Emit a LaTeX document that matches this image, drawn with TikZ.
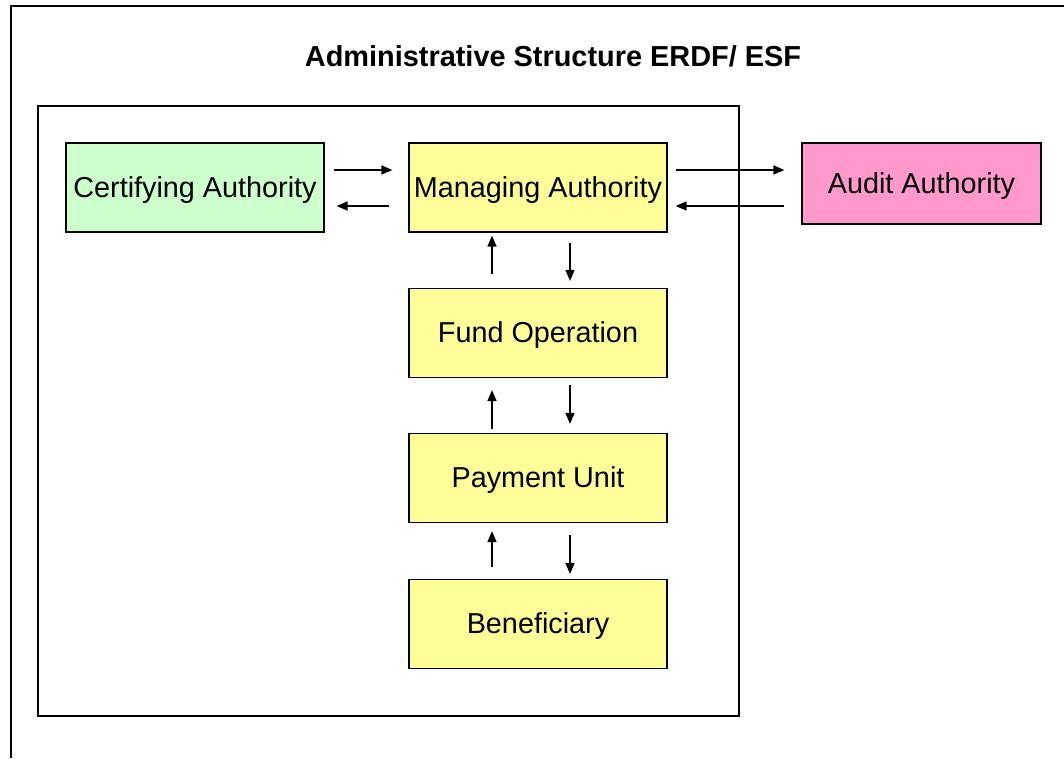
\documentclass[tikz,border=0pt]{standalone}
\usepackage{fontspec}
\setmainfont{Liberation Sans}
\usetikzlibrary{arrows.meta}
\definecolor{boxgreen}{HTML}{CCFFCC}
\definecolor{boxyellow}{HTML}{FFFF99}
\definecolor{boxpink}{HTML}{FF99CC}
\begin{document}
\begin{tikzpicture}[x=1pt,y=-1pt,
  box/.style={draw=black, line width=1.2pt, inner sep=0pt, text height=19pt, text depth=0pt, font=\fontsize{28.8}{34}\selectfont},
  arr/.style={line width=1.6pt, -{Triangle[length=11pt,width=9pt]}},
  frame/.style={draw=black, line width=1.8pt}]
\useasboundingbox (0,0) rectangle (1064,758);
% outer frame (only top and left visible)
\draw[frame] (1064,6) -- (11,6) -- (11,758);
% inner frame
\coordinate (fa) at (38,106);
\coordinate (fb) at (739,716);
\draw[frame] (fa) rectangle (fb);
% title
\node[font=\bfseries\fontsize{28.9}{34}\selectfont, anchor=base] (title) at (553,66.7) {Administrative Structure ERDF/ ESF};
% boxes
\node[box, fill=boxgreen, minimum width=258pt, minimum height=89pt] (cert) at (195,187.5) {Certifying Authority};
\node[box, fill=boxyellow, minimum width=258pt, minimum height=89pt] (ma) at (538,187.5) {Managing Authority};
\node[box, fill=boxpink, minimum width=239pt, minimum height=81pt] (aa) at (921.5,183.5) {Audit Authority};
\node[box, fill=boxyellow, minimum width=258pt, minimum height=89pt] (fo) at (538,333) {Fund Operation};
\node[box, fill=boxyellow, minimum width=258pt, minimum height=89pt] (pu) at (538,478) {Payment Unit};
\node[box, fill=boxyellow, minimum width=258pt, minimum height=89pt] (ben) at (538,624) {Beneficiary};
% horizontal arrows
\draw[arr, shorten <=9pt, shorten >=16pt] ([yshift=17.5pt]cert.east) -- ([yshift=17.5pt]ma.west);
\draw[arr, shorten <=19pt, shorten >=12pt] ([yshift=-18.5pt]ma.west) -- ([yshift=-18.5pt]cert.east);
\draw[arr, shorten <=8pt, shorten >=17pt] ([yshift=17.5pt]ma.east) -- ([yshift=17.5pt]ma.east -| aa.west);
\draw[arr, shorten <=17pt, shorten >=8pt] ([yshift=-18.5pt]ma.east -| aa.west) -- ([yshift=-18.5pt]ma.east);
% vertical arrows
\draw[arr, shorten <=14pt, shorten >=3pt] ([xshift=-46pt]fo.north) -- ([xshift=-46pt]ma.south);
\draw[arr, shorten <=10pt, shorten >=7pt] ([xshift=32pt]ma.south) -- ([xshift=32pt]fo.north);
\draw[arr, shorten <=4pt, shorten >=12pt] ([xshift=-46pt]pu.north) -- ([xshift=-46pt]fo.south);
\draw[arr, shorten <=7pt, shorten >=9pt] ([xshift=32pt]fo.south) -- ([xshift=32pt]pu.north);
\draw[arr, shorten <=12pt, shorten >=8pt] ([xshift=-46pt]ben.north) -- ([xshift=-46pt]pu.south);
\draw[arr, shorten <=12pt, shorten >=5pt] ([xshift=32pt]pu.south) -- ([xshift=32pt]ben.north);
\end{tikzpicture}
\end{document}
